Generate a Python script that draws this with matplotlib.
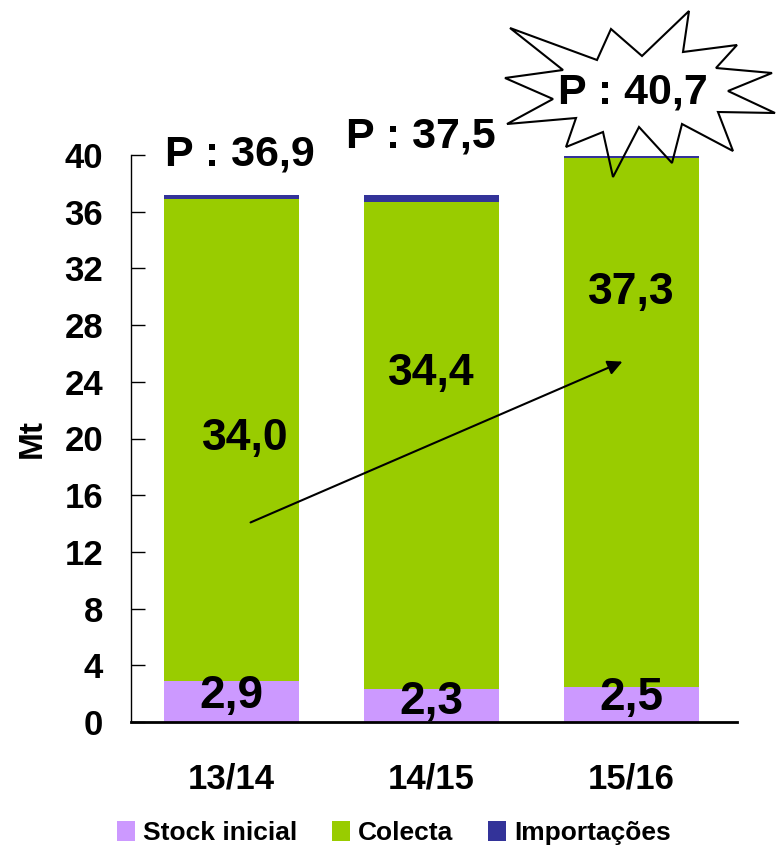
import matplotlib
matplotlib.use("Agg")
import matplotlib.pyplot as plt
from matplotlib.patches import Polygon, FancyArrowPatch
import numpy as np

plt.rcParams['font.family'] = ['Liberation Sans', 'DejaVu Sans']
plt.rcParams['font.weight'] = 'bold'

categories = ["13/14", "14/15", "15/16"]
stock = [2.9, 2.3, 2.5]
colecta = [34.0, 34.4, 37.3]
importacoes = [0.3, 0.5, 0.1]
stock_labels = ["2,9", "2,3", "2,5"]
colecta_labels = ["34,0", "34,4", "37,3"]
prod_labels = ["P : 36,9", "P : 37,5", "P : 40,7"]
yticks = [0, 4, 8, 12, 16, 20, 24, 28, 32, 36, 40]

c_stock = "#CC99FF"
c_col = "#99CC00"
c_imp = "#333399"

W, H = 776, 848
fig = plt.figure(figsize=(W / 100, H / 100), dpi=100)
ax = fig.add_axes([131 / W, 1 - 722 / H, (737 - 131) / W, (722 - 155) / H])

x = np.arange(len(categories))
bw = 0.675
stock_a = np.array(stock)
col_a = np.array(colecta)
imp_a = np.array(importacoes)
ax.bar(x, stock_a, bw, color=c_stock, label="Stock inicial", zorder=2)
ax.bar(x, col_a, bw, bottom=stock_a, color=c_col, label="Colecta", zorder=2)
ax.bar(x, imp_a, bw, bottom=stock_a + col_a, color=c_imp, label="Importações", zorder=2)

ax.set_xlim(-0.5, 2.53)
ax.set_ylim(0, 40)
ax.set_yticks(yticks)
ax.set_yticklabels([str(v) for v in yticks], fontsize=25, fontweight='bold')
ax.tick_params(axis='y', direction='in', length=10, width=1, pad=20)
ax.set_xticks(x)
ax.set_xticklabels(categories, fontsize=25, fontweight='bold')
ax.tick_params(axis='x', length=0, pad=29)
for s in ['top', 'right']:
    ax.spines[s].set_visible(False)
ax.spines['left'].set_linewidth(1.0)
ax.spines['bottom'].set_linewidth(2.0)
ax.set_ylabel("Mt", fontsize=24, fontweight='bold', labelpad=12)

# value labels
stock_y = [1.8, 1.4, 1.7]
for i in range(3):
    ax.text(x[i], stock_y[i], stock_labels[i], ha='center', va='center', fontsize=33, fontweight='bold', zorder=5)
col_pos = [(0.07, 20.0), (1.0, 24.6), (2.0, 30.3)]
for i in range(3):
    ax.text(col_pos[i][0], col_pos[i][1], colecta_labels[i], ha='center', va='center', fontsize=32, fontweight='bold', zorder=5)

prod_pos = [(0.045, 40.0), (0.95, 41.3), (2.01, 44.4)]
for i in range(3):
    ax.text(prod_pos[i][0], prod_pos[i][1], prod_labels[i], ha='center', va='center', fontsize=31,
            fontweight='bold', zorder=6, clip_on=False)

# starburst around last production label
star_px = [(510, 28), (597, 60), (611, 29), (642, 56), (689, 11), (683, 52), (737, 45), (716, 68),
           (772, 73), (728, 91), (775, 113), (718, 112), (733, 151), (682, 124), (672, 163), (639, 127),
           (613, 177), (603, 132), (566, 147), (576, 118), (507, 124), (553, 99), (505, 78), (563, 70)]
star = Polygon([(px / W, 1 - py / H) for px, py in star_px], closed=True, facecolor='none',
               edgecolor='black', linewidth=1.5, transform=fig.transFigure, zorder=4)
fig.patches.append(star)

# trend arrow
arr = FancyArrowPatch((0.085, 14.0), (1.97, 25.5), arrowstyle='-|>', mutation_scale=22,
                      color='black', linewidth=1.5, zorder=5)
ax.add_patch(arr)

leg = fig.legend(loc='center', bbox_to_anchor=(394 / W, 1 - 833 / H), ncol=3, frameon=False,
                 prop={'size': 19, 'weight': 'bold'}, handlelength=0.7, handleheight=0.8,
                 handletextpad=0.3, columnspacing=1.3)

fig.savefig("out.png", dpi=100)
